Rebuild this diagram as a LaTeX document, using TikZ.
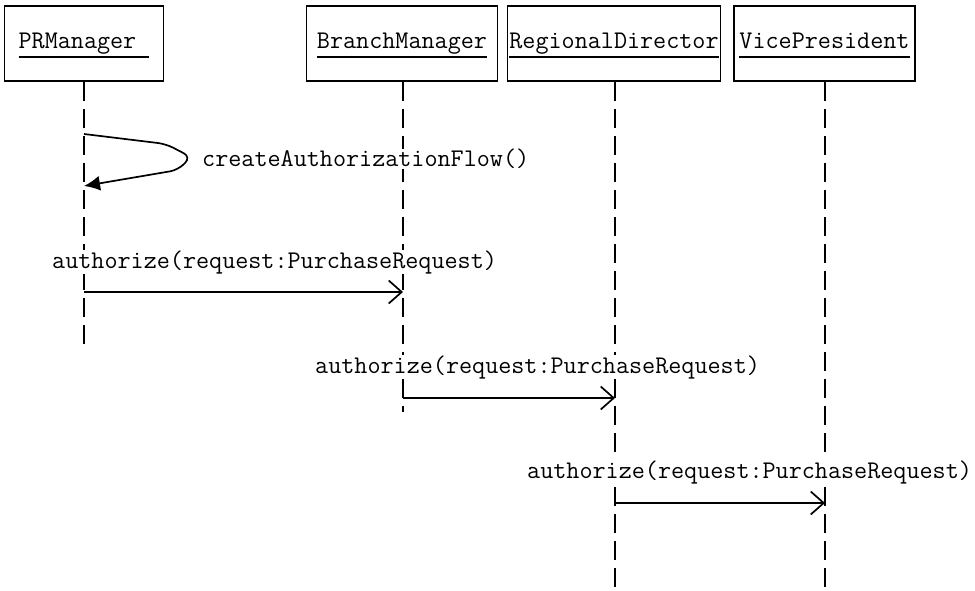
\documentclass[tikz,border=0pt]{standalone}
\usepackage{fontspec}
\usepackage{tikz}
\usetikzlibrary{arrows.meta}
\newcommand{\msgfont}{\ttfamily\fontsize{25.4}{30}\selectfont}
\newcommand{\objname}[1]{\setbox0\hbox{#1}\leavevmode\rlap{\rule[-9.5pt]{\wd0}{2pt}}\box0}
\tikzstyle{object}=[draw, line width=1.6pt, minimum height=75pt, inner sep=2pt, text height=17pt, text depth=7pt, font=\msgfont]
\tikzstyle{lifeline}=[line width=1.6pt, dash pattern=on 19pt off 8pt]
\tikzstyle{call}=[line width=1.7pt, -{Straight Barb[length=13pt,width=23pt,line width=1.7pt]}]
\tikzstyle{selfcall}=[line width=1.7pt, rounded corners=8pt, -{Latex[length=16pt,width=15pt]}]
\tikzstyle{msg}=[anchor=base west, inner sep=0pt, fill=white, font=\msgfont]

\begin{document}
\begin{tikzpicture}
        [x=1pt,y=-1pt]
            \useasboundingbox (0,0) rectangle (975,591);
            % objects
            \node [object, minimum width=159pt] (pr) at (84,43.5) {\objname{PRManager~}};
            \node [object, minimum width=191pt] (bm) at (402,43.5) {\objname{BranchManager}};
            \node [object, minimum width=210pt] (rd) at (614,43.5) {\objname{RegionalDirector}};
            \node [object, minimum width=181pt] (vp) at (824.5,43.5) {\objname{VicePresident}};
            % lifelines
            \coordinate (pr-end) at (84,350);
            \coordinate (bm-end) at (403,412);
            \coordinate (rd-end) at (615,591);
            \coordinate (vp-end) at (825,591);
            \draw [lifeline] (pr.south) -- (pr-end);
            \draw [lifeline] (bm.south -| bm-end) -- (bm-end);
            \draw [lifeline] (rd.south -| rd-end) -- (rd-end);
            \draw [lifeline] (vp.south -| vp-end) -- (vp-end);
            % self call
            \coordinate (self-from) at (84,134);
            \coordinate (self-to) at (84,186);
            \draw [selfcall] (self-from) -- (166,144) -- (191,157) -- (178,170) -- (self-to);
            \node [msg] (self-label) at (202,167) {createAuthorizationFlow()};
            % calls
            \coordinate (m1-from) at (84,292);
            \coordinate (m1-to) at (403,292);
            \coordinate (m2-from) at (403,398);
            \coordinate (m2-to) at (615,398);
            \coordinate (m3-from) at (615,503);
            \coordinate (m3-to) at (825,503);
            \draw [call] (m1-from) -- (m1-to);
            \draw [call] (m2-from) -- (m2-to);
            \draw [call] (m3-from) -- (m3-to);
            \node [msg] (m1-label) at (52,268) {authorize(request:PurchaseRequest)};
            \node [msg] (m2-label) at (315,373) {authorize(request:PurchaseRequest)};
            \node [msg] (m3-label) at (527,478) {authorize(request:PurchaseRequest)};
        \end{tikzpicture}
\end{document}
